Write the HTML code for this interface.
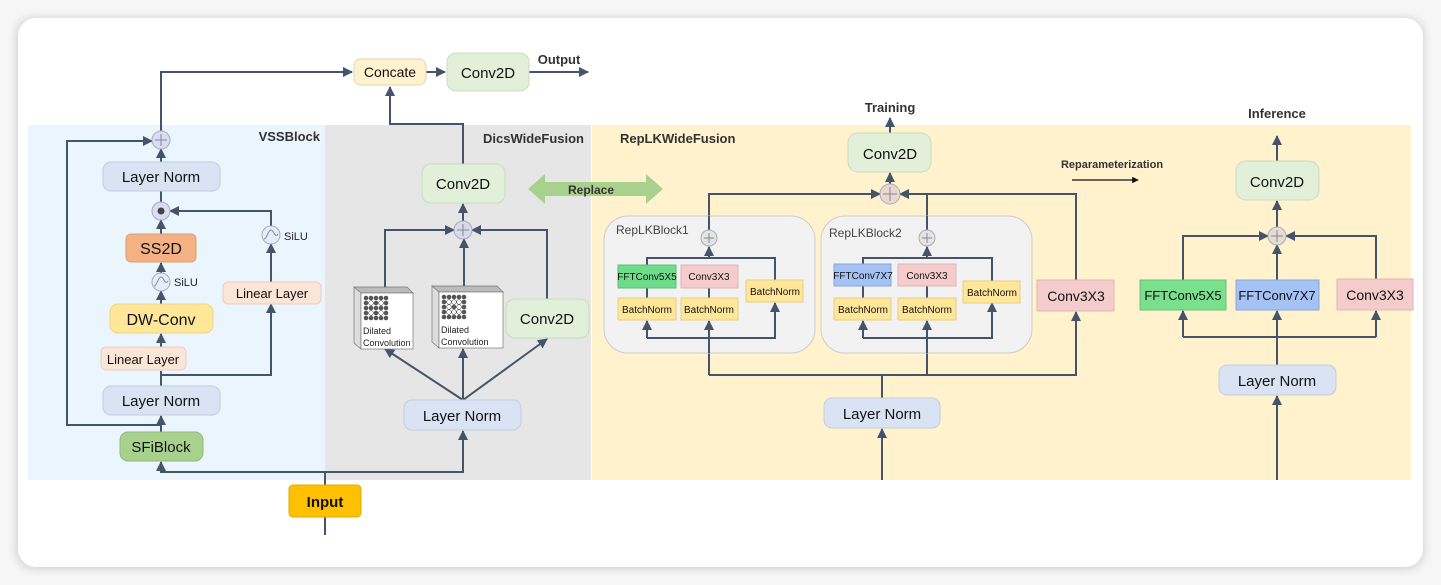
<!DOCTYPE html>
<html><head><meta charset="utf-8"><style>
html,body{margin:0;padding:0;background:#fff;}
svg{display:block;font-family:"Liberation Sans",sans-serif;}
</style></head><body>
<svg width="1441" height="585" viewBox="0 0 1441 585" xmlns="http://www.w3.org/2000/svg">
<defs>
<marker id="a" viewBox="0 0 10 10" refX="9" refY="5" markerWidth="5" markerHeight="5" orient="auto-start-reverse"><path d="M0,0L10,5L0,10z" fill="#44546a"/></marker>
<marker id="b" viewBox="0 0 10 10" refX="9" refY="5" markerWidth="5" markerHeight="5" orient="auto"><path d="M0,0L10,5L0,10z" fill="#111"/></marker>
<filter id="sh" x="-5%" y="-5%" width="110%" height="110%"><feGaussianBlur stdDeviation="5"/></filter>
</defs>
<rect x="0" y="0" width="1441" height="585" fill="#f7f7f7"/>
<rect x="16" y="18" width="1408" height="551" rx="18" fill="#cfcfcf" filter="url(#sh)"/>
<rect x="18" y="18" width="1405" height="549" rx="18" fill="#fff"/>
<!-- panels -->
<rect x="28" y="125" width="297" height="355" fill="#eaf5fd"/>
<rect x="325" y="125" width="266" height="355" fill="#e6e6e6"/>
<rect x="592" y="125" width="819" height="355" fill="#fff2cc"/>
<g font-weight="bold" fill="#333" font-size="13">
<text x="320" y="141" text-anchor="end">VSSBlock</text>
<text x="584" y="143" text-anchor="end">DicsWideFusion</text>
<text x="620" y="143">RepLKWideFusion</text>
<text x="890" y="112" text-anchor="middle">Training</text>
<text x="1277" y="118" text-anchor="middle">Inference</text>
<text x="559" y="64" text-anchor="middle">Output</text>
<text x="1112" y="168" text-anchor="middle" font-size="11">Reparameterization</text>
</g>
<line x1="1072" y1="180" x2="1138" y2="180" stroke="#111" stroke-width="1.3" marker-end="url(#b)"/>
<!-- replace arrow -->
<polygon points="528,189 545,174 545,182 646,182 646,174 663,189 646,204 646,196 545,196 545,204" fill="#a9d18e"/>
<text x="591" y="194" font-size="12" font-weight="bold" fill="#333" text-anchor="middle">Replace</text>
<!-- connectors -->
<g stroke="#44546a" stroke-width="2" fill="none">
<path d="M161,132V72H352" marker-end="url(#a)"/>
<path d="M426,72H445" marker-end="url(#a)"/>
<path d="M529,72H588" marker-end="url(#a)"/>
<path d="M463,164V124H390V87" marker-end="url(#a)"/>
<path d="M161,425H67V141H152" marker-end="url(#a)"/>
<path d="M161,162V149" marker-end="url(#a)"/>
<path d="M161,234V220" marker-end="url(#a)"/>
<path d="M161,191V203" />
<path d="M161,274V263" marker-end="url(#a)"/>
<path d="M161,304V291" marker-end="url(#a)"/>
<path d="M161,347V334" marker-end="url(#a)"/>
<path d="M161,386V371"/>
<path d="M161,375H271V304" marker-end="url(#a)"/>
<path d="M271,282V244" marker-end="url(#a)"/>
<path d="M271,227V211H170" marker-end="url(#a)"/>
<path d="M161,432V416" marker-end="url(#a)"/>
<path d="M325,535V517"/>
<path d="M325,485V472H161V462" marker-end="url(#a)"/>
<path d="M325,472H463V431" marker-end="url(#a)"/>
<path d="M463,400L385,349" marker-end="url(#a)"/>
<path d="M463,400V349" marker-end="url(#a)"/>
<path d="M463,400L547,339" marker-end="url(#a)"/>
<path d="M385,287V230H454" marker-end="url(#a)"/>
<path d="M464,286V239" marker-end="url(#a)"/>
<path d="M547,299V230H472" marker-end="url(#a)"/>
<path d="M463,221V204" marker-end="url(#a)"/>
<!-- training -->
<path d="M890,133V118" marker-end="url(#a)"/>
<path d="M890,185V173" marker-end="url(#a)"/>
<path d="M709,230V194H880" marker-end="url(#a)"/>
<path d="M927,230V194"/>
<path d="M1076,280V194H900" marker-end="url(#a)"/>
<path d="M882,480V429" marker-end="url(#a)"/>
<path d="M882,398V375"/>
<path d="M709,375H1076V312" marker-end="url(#a)"/>
<path d="M709,375V321" marker-end="url(#a)"/>
<path d="M927,375V321" marker-end="url(#a)"/>
<path d="M647,265V258H775V280"/>
<path d="M709,258V247" marker-end="url(#a)"/>
<path d="M709,265V298"/>
<path d="M647,288V298"/>
<path d="M647,338H775V303" marker-end="url(#a)"/>
<path d="M647,338V321" marker-end="url(#a)"/>
<path d="M863,264V258H992V281"/>
<path d="M927,258V247" marker-end="url(#a)"/>
<path d="M927,264V298"/>
<path d="M863,286V298"/>
<path d="M863,338H992V303" marker-end="url(#a)"/>
<path d="M863,338V321" marker-end="url(#a)"/>
<!-- inference -->
<path d="M1277,161V136" marker-end="url(#a)"/>
<path d="M1277,228V201" marker-end="url(#a)"/>
<path d="M1183,280V236H1268" marker-end="url(#a)"/>
<path d="M1376,280V236H1286" marker-end="url(#a)"/>
<path d="M1277,280V245" marker-end="url(#a)"/>
<path d="M1277,480V396" marker-end="url(#a)"/>
<path d="M1277,365V311" marker-end="url(#a)"/>
<path d="M1183,337H1376"/>
<path d="M1183,337V311" marker-end="url(#a)"/>
<path d="M1376,337V311" marker-end="url(#a)"/>
</g>
<!-- rep blocks -->
<rect x="604" y="216" width="211" height="137" rx="24" fill="#f2f2f2" stroke="#ccc"/>
<rect x="821" y="216" width="211" height="137" rx="24" fill="#f2f2f2" stroke="#ccc"/>
<g stroke="#44546a" stroke-width="2" fill="none">
<path d="M647,265V258H775V280"/><path d="M709,258V247" marker-end="url(#a)"/><path d="M709,265V298"/><path d="M647,288V298"/>
<path d="M647,338H775V303" marker-end="url(#a)"/><path d="M647,338V321" marker-end="url(#a)"/><path d="M709,353V321" marker-end="url(#a)"/>
<path d="M709,230V216"/>
<path d="M863,264V258H992V281"/><path d="M927,258V247" marker-end="url(#a)"/><path d="M927,264V298"/><path d="M863,286V298"/>
<path d="M863,338H992V303" marker-end="url(#a)"/><path d="M863,338V321" marker-end="url(#a)"/><path d="M927,353V321" marker-end="url(#a)"/>
<path d="M927,230V216"/>
</g>
<text x="616" y="234" font-size="12" fill="#444">RepLKBlock1</text>
<text x="829" y="237" font-size="12" fill="#444">RepLKBlock2</text>
<!-- boxes -->
<g font-size="15" text-anchor="middle" fill="#111">
<rect x="354" y="59" width="72" height="26" rx="7" fill="#fff2cc" stroke="#e0d6b0"/><text x="390" y="77" font-size="14">Concate</text>
<rect x="447" y="53" width="82" height="38" rx="9" fill="#e2f0d9" stroke="#c8dcc0"/><text x="488" y="78">Conv2D</text>
<rect x="103" y="162" width="117" height="29" rx="8" fill="#dae3f3" stroke="#c3cde0"/><text x="161" y="182">Layer Norm</text>
<rect x="126" y="234" width="70" height="28" rx="5" fill="#f4b183" stroke="#e0a070"/><text x="161" y="254" font-size="16">SS2D</text>
<rect x="110" y="304" width="103" height="29" rx="8" fill="#ffe699" stroke="#eed580"/><text x="161" y="325" font-size="16">DW-Conv</text>
<rect x="101" y="347" width="85" height="23" rx="5" fill="#fbe5d6" stroke="#e8d0c0"/><text x="143" y="364" font-size="13">Linear Layer</text>
<rect x="223" y="282" width="98" height="22" rx="5" fill="#fbe5d6" stroke="#e8d0c0"/><text x="272" y="298" font-size="13">Linear Layer</text>
<rect x="103" y="386" width="117" height="29" rx="8" fill="#dae3f3" stroke="#c3cde0"/><text x="161" y="406">Layer Norm</text>
<rect x="120" y="432" width="83" height="29" rx="8" fill="#a9d18e" stroke="#90bb78"/><text x="161" y="452">SFiBlock</text>
<rect x="289" y="485" width="72" height="32" rx="4" fill="#ffc000" stroke="#e0aa00"/><text x="325" y="507" font-weight="bold">Input</text>
<rect x="422" y="164" width="83" height="39" rx="9" fill="#e2f0d9" stroke="#c8dcc0"/><text x="463" y="189">Conv2D</text>
<rect x="506" y="299" width="83" height="39" rx="9" fill="#e2f0d9" stroke="#c8dcc0"/><text x="547" y="324">Conv2D</text>
<rect x="404" y="400" width="117" height="30" rx="8" fill="#dae3f3" stroke="#c3cde0"/><text x="462" y="421">Layer Norm</text>
<rect x="848" y="133" width="83" height="39" rx="10" fill="#e2f0d9" stroke="#c8dcc0"/><text x="890" y="159">Conv2D</text>
<rect x="824" y="398" width="116" height="30" rx="8" fill="#dae3f3" stroke="#c3cde0"/><text x="882" y="419">Layer Norm</text>
<rect x="1037" y="280" width="77" height="31" fill="#f4cccc" stroke="#dfb5b5"/><text x="1076" y="301" font-size="14">Conv3X3</text>
<rect x="1236" y="161" width="83" height="39" rx="10" fill="#e2f0d9" stroke="#c8dcc0"/><text x="1277" y="187">Conv2D</text>
<rect x="1140" y="280" width="86" height="30" fill="#7be08e" stroke="#6ac07a"/><text x="1183" y="300" font-size="13">FFTConv5X5</text>
<rect x="1236" y="280" width="83" height="30" fill="#a4c2f4" stroke="#8aa8d8"/><text x="1277" y="300" font-size="13">FFTConv7X7</text>
<rect x="1337" y="279" width="76" height="31" fill="#f4cccc" stroke="#dfb5b5"/><text x="1375" y="300" font-size="14">Conv3X3</text>
<rect x="1219" y="365" width="117" height="30" rx="8" fill="#dae3f3" stroke="#c3cde0"/><text x="1277" y="386">Layer Norm</text>
</g>
<g font-size="10" text-anchor="middle" fill="#111">
<rect x="618" y="265" width="58" height="23" fill="#6fdc8c" stroke="#5cc078"/><text x="647" y="280">FFTConv5X5</text>
<rect x="681" y="265" width="57" height="23" fill="#f4cccc" stroke="#dfb5b5"/><text x="709" y="280">Conv3X3</text>
<rect x="746" y="280" width="57" height="22" fill="#ffe699" stroke="#e8cf80"/><text x="775" y="295">BatchNorm</text>
<rect x="618" y="298" width="58" height="22" fill="#ffe699" stroke="#e8cf80"/><text x="647" y="313">BatchNorm</text>
<rect x="681" y="298" width="57" height="22" fill="#ffe699" stroke="#e8cf80"/><text x="709" y="313">BatchNorm</text>
<rect x="834" y="264" width="57" height="22" fill="#a4c2f4" stroke="#8aa8d8"/><text x="863" y="279">FFTConv7X7</text>
<rect x="898" y="264" width="58" height="22" fill="#f4cccc" stroke="#dfb5b5"/><text x="927" y="279">Conv3X3</text>
<rect x="963" y="281" width="57" height="22" fill="#ffe699" stroke="#e8cf80"/><text x="992" y="296">BatchNorm</text>
<rect x="834" y="298" width="57" height="22" fill="#ffe699" stroke="#e8cf80"/><text x="863" y="313">BatchNorm</text>
<rect x="898" y="298" width="58" height="22" fill="#ffe699" stroke="#e8cf80"/><text x="927" y="313">BatchNorm</text>
</g>
<!-- dilated conv boxes -->
<g>
<polygon points="354,287 407,287 413,293 361,293" fill="#bbb" stroke="#777" stroke-width="0.7"/>
<polygon points="354,287 361,293 361,349 354,343" fill="#ddd" stroke="#777" stroke-width="0.7"/>
<rect x="361" y="293" width="52" height="56" fill="#fff" stroke="#777" stroke-width="0.7"/>
<polygon points="432,286 497,286 503,292 439,292" fill="#bbb" stroke="#777" stroke-width="0.7"/>
<polygon points="432,286 439,292 439,348 432,342" fill="#ddd" stroke="#777" stroke-width="0.7"/>
<rect x="439" y="292" width="64" height="56" fill="#fff" stroke="#777" stroke-width="0.7"/>
<g fill="#555">
<circle cx="366" cy="298" r="2.3"/><circle cx="371" cy="298" r="2.3"/><circle cx="376" cy="298" r="2.3"/><circle cx="381" cy="298" r="2.3"/><circle cx="386" cy="298" r="2.3"/>
<circle cx="366" cy="303" r="2.3"/><circle cx="371" cy="303" r="2.3" fill="#fff" stroke="#555" stroke-width=".6"/><circle cx="376" cy="303" r="2.3"/><circle cx="381" cy="303" r="2.3" fill="#fff" stroke="#555" stroke-width=".6"/><circle cx="386" cy="303" r="2.3"/>
<circle cx="366" cy="308" r="2.3"/><circle cx="371" cy="308" r="2.3"/><circle cx="376" cy="308" r="2.3"/><circle cx="381" cy="308" r="2.3"/><circle cx="386" cy="308" r="2.3"/>
<circle cx="366" cy="313" r="2.3"/><circle cx="371" cy="313" r="2.3" fill="#fff" stroke="#555" stroke-width=".6"/><circle cx="376" cy="313" r="2.3"/><circle cx="381" cy="313" r="2.3" fill="#fff" stroke="#555" stroke-width=".6"/><circle cx="386" cy="313" r="2.3"/>
<circle cx="366" cy="318" r="2.3"/><circle cx="371" cy="318" r="2.3"/><circle cx="376" cy="318" r="2.3"/><circle cx="381" cy="318" r="2.3"/><circle cx="386" cy="318" r="2.3"/>
<circle cx="444" cy="297" r="2.3"/><circle cx="449" cy="297" r="2.3"/><circle cx="454" cy="297" r="2.3"/><circle cx="459" cy="297" r="2.3"/><circle cx="464" cy="297" r="2.3"/>
<circle cx="444" cy="302" r="2.3"/><circle cx="449" cy="302" r="2.3" fill="#fff" stroke="#555" stroke-width=".6"/><circle cx="454" cy="302" r="2.3" fill="#fff" stroke="#555" stroke-width=".6"/><circle cx="459" cy="302" r="2.3" fill="#fff" stroke="#555" stroke-width=".6"/><circle cx="464" cy="302" r="2.3"/>
<circle cx="444" cy="307" r="2.3"/><circle cx="449" cy="307" r="2.3" fill="#fff" stroke="#555" stroke-width=".6"/><circle cx="454" cy="307" r="2.3"/><circle cx="459" cy="307" r="2.3" fill="#fff" stroke="#555" stroke-width=".6"/><circle cx="464" cy="307" r="2.3"/>
<circle cx="444" cy="312" r="2.3"/><circle cx="449" cy="312" r="2.3" fill="#fff" stroke="#555" stroke-width=".6"/><circle cx="454" cy="312" r="2.3" fill="#fff" stroke="#555" stroke-width=".6"/><circle cx="459" cy="312" r="2.3" fill="#fff" stroke="#555" stroke-width=".6"/><circle cx="464" cy="312" r="2.3"/>
<circle cx="444" cy="317" r="2.3"/><circle cx="449" cy="317" r="2.3"/><circle cx="454" cy="317" r="2.3"/><circle cx="459" cy="317" r="2.3"/><circle cx="464" cy="317" r="2.3"/>
</g>
<g font-size="9" fill="#222"><text x="363" y="334">Dilated</text><text x="363" y="346">Convolution</text><text x="441" y="333">Dilated</text><text x="441" y="345">Convolution</text></g>
</g>
<!-- circles -->
<g stroke="#aab" stroke-width="1">
<circle cx="161" cy="140" r="9" fill="#d9dcf5"/>
<circle cx="161" cy="211" r="9" fill="#d9dcf5"/>
<circle cx="161" cy="282" r="9" fill="#e3eefa"/>
<circle cx="271" cy="235" r="9" fill="#e3eefa"/>
<circle cx="463" cy="230" r="9" fill="#d9d9ee"/>
<circle cx="890" cy="194" r="10" fill="#e8d8d0"/>
<circle cx="709" cy="238" r="8" fill="#e4e4e4"/>
<circle cx="927" cy="238" r="8" fill="#e4e4e4"/>
<circle cx="1277" cy="236" r="9" fill="#e4ddd5"/>
</g>
<g stroke="#888" stroke-width="1" fill="none">
<path d="M155,140h12M161,134v12"/><path d="M457,230h12M463,224v12"/><path d="M883,194h14M890,187v14"/>
<path d="M704,238h10M709,233v10"/><path d="M922,238h10M927,233v10"/><path d="M1271,236h12M1277,230v12"/>
<path d="M154,286c3,0 4,-9 7,-9s4,9 7,4" stroke="#889"/><path d="M264,239c3,0 4,-9 7,-9s4,9 7,4" stroke="#889"/>
</g>
<circle cx="161" cy="211" r="3.5" fill="#444"/>
<text x="174" y="286" font-size="11" fill="#222">SiLU</text>
<text x="284" y="240" font-size="11" fill="#222">SiLU</text>
</svg>
</body></html>
